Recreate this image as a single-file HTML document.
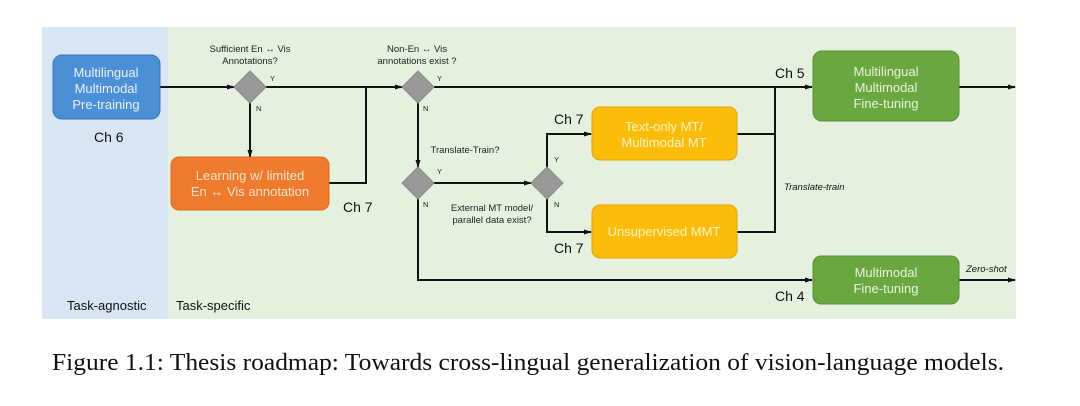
<!DOCTYPE html>
<html><head><style>
body{margin:0;background:#fff;width:1080px;height:401px;overflow:hidden;font-family:"Liberation Sans",sans-serif}
</style></head><body>
<svg width="1080" height="401" xmlns="http://www.w3.org/2000/svg" font-family="Liberation Sans, sans-serif">
<defs><marker id="a" markerUnits="userSpaceOnUse" markerWidth="8" markerHeight="8" refX="7" refY="4" orient="auto"><path d="M0,1.5 L8,4 L0,6.5z" fill="#111"/></marker></defs>
<rect x="42" y="27" width="974" height="292" fill="#e6f0de"/>
<rect x="42" y="27" width="126" height="292" fill="#d7e6f2"/>
<g stroke="#111" stroke-width="2" fill="none">
<line x1="160" y1="87" x2="234" y2="87" marker-end="url(#a)"/>
<line x1="266" y1="87" x2="402" y2="87" marker-end="url(#a)"/>
<line x1="250" y1="103" x2="250" y2="157" marker-end="url(#a)"/>
<polyline points="329,183 366,183 366,87"/>
<line x1="434" y1="87" x2="812" y2="87" marker-end="url(#a)"/>
<line x1="418" y1="103" x2="418" y2="167" marker-end="url(#a)"/>
<line x1="434" y1="183" x2="531" y2="183" marker-end="url(#a)"/>
<polyline points="547,167 547,134 591,134" marker-end="url(#a)"/>
<polyline points="547,199 547,232 591,232" marker-end="url(#a)"/>
<polyline points="737,134 775,134"/>
<polyline points="737,232 775,232 775,87"/>
<polyline points="418,199 418,280 812,280" marker-end="url(#a)"/>
<line x1="959" y1="87" x2="1015" y2="87" marker-end="url(#a)"/>
<line x1="959" y1="280" x2="1015" y2="280" marker-end="url(#a)"/>
</g>
<g fill="#999" stroke="#888">
<path d="M250,71 L266,87 L250,103 L234,87z"/>
<path d="M418,71 L434,87 L418,103 L402,87z"/>
<path d="M418,167 L434,183 L418,199 L402,183z"/>
<path d="M547,167 L563,183 L547,199 L531,183z"/>
</g>
<rect x="53" y="55" width="107" height="64" rx="9" fill="#4b8fd6" stroke="#3a76b8"/>
<rect x="171" y="157" width="158" height="53" rx="8" fill="#ee7b2d" stroke="#d66a20"/>
<rect x="592" y="107" width="145" height="53" rx="8" fill="#fbbd0a" stroke="#e0a500"/>
<rect x="592" y="205" width="145" height="53" rx="8" fill="#fbbd0a" stroke="#e0a500"/>
<rect x="813" y="51" width="146" height="70" rx="9" fill="#6aa740" stroke="#588f33"/>
<rect x="813" y="256" width="146" height="48" rx="8" fill="#6aa740" stroke="#588f33"/>
<g fill="#e8f2ff" font-size="13" text-anchor="middle">
<text x="106" y="77">Multilingual</text><text x="106" y="93">Multimodal</text><text x="106" y="109">Pre-training</text>
</g>
<g fill="#fde0c8" font-size="13" text-anchor="middle"><text x="250" y="180">Learning w/ limited</text><text x="250" y="196">En ↔ Vis annotation</text></g>
<g fill="#fff3c4" font-size="13" text-anchor="middle"><text x="664" y="131">Text-only MT/</text><text x="664" y="147">Multimodal MT</text><text x="664" y="236">Unsupervised MMT</text></g>
<g fill="#e6f5d8" font-size="13" text-anchor="middle"><text x="886" y="76">Multilingual</text><text x="886" y="92">Multimodal</text><text x="886" y="108">Fine-tuning</text><text x="886" y="277">Multimodal</text><text x="886" y="293">Fine-tuning</text></g>
<g fill="#222" font-size="9.5" text-anchor="middle">
<text x="250" y="52">Sufficient En ↔ Vis</text><text x="250" y="64">Annotations?</text>
<text x="417" y="52">Non-En ↔ Vis</text><text x="417" y="64">annotations exist ?</text>
<text x="465" y="153">Translate-Train?</text>
<text x="492" y="211">External MT model/</text><text x="492" y="223">parallel data exist?</text>
</g>
<g fill="#222" font-size="7.5"><text x="270" y="81">Y</text><text x="256" y="111">N</text><text x="437" y="81">Y</text><text x="423" y="111">N</text><text x="437" y="174">Y</text><text x="423" y="207">N</text><text x="554" y="162">Y</text><text x="554" y="207">N</text></g>
<g fill="#111" font-size="14"><text x="94" y="142">Ch 6</text><text x="343" y="212">Ch 7</text><text x="554" y="124">Ch 7</text><text x="554" y="253">Ch 7</text><text x="775" y="78">Ch 5</text><text x="775" y="301">Ch 4</text>
<text x="67" y="310" font-size="13">Task-agnostic</text><text x="176" y="310" font-size="13">Task-specific</text></g>
<g fill="#111" font-size="9.5" font-style="italic"><text x="784" y="190">Translate-train</text><text x="966" y="272">Zero-shot</text></g>
<text x="52" y="370" font-family="Liberation Serif, serif" font-size="24" fill="#111" textLength="952" lengthAdjust="spacingAndGlyphs">Figure 1.1: Thesis roadmap: Towards cross-lingual generalization of vision-language models.</text>
</svg>
</body></html>
